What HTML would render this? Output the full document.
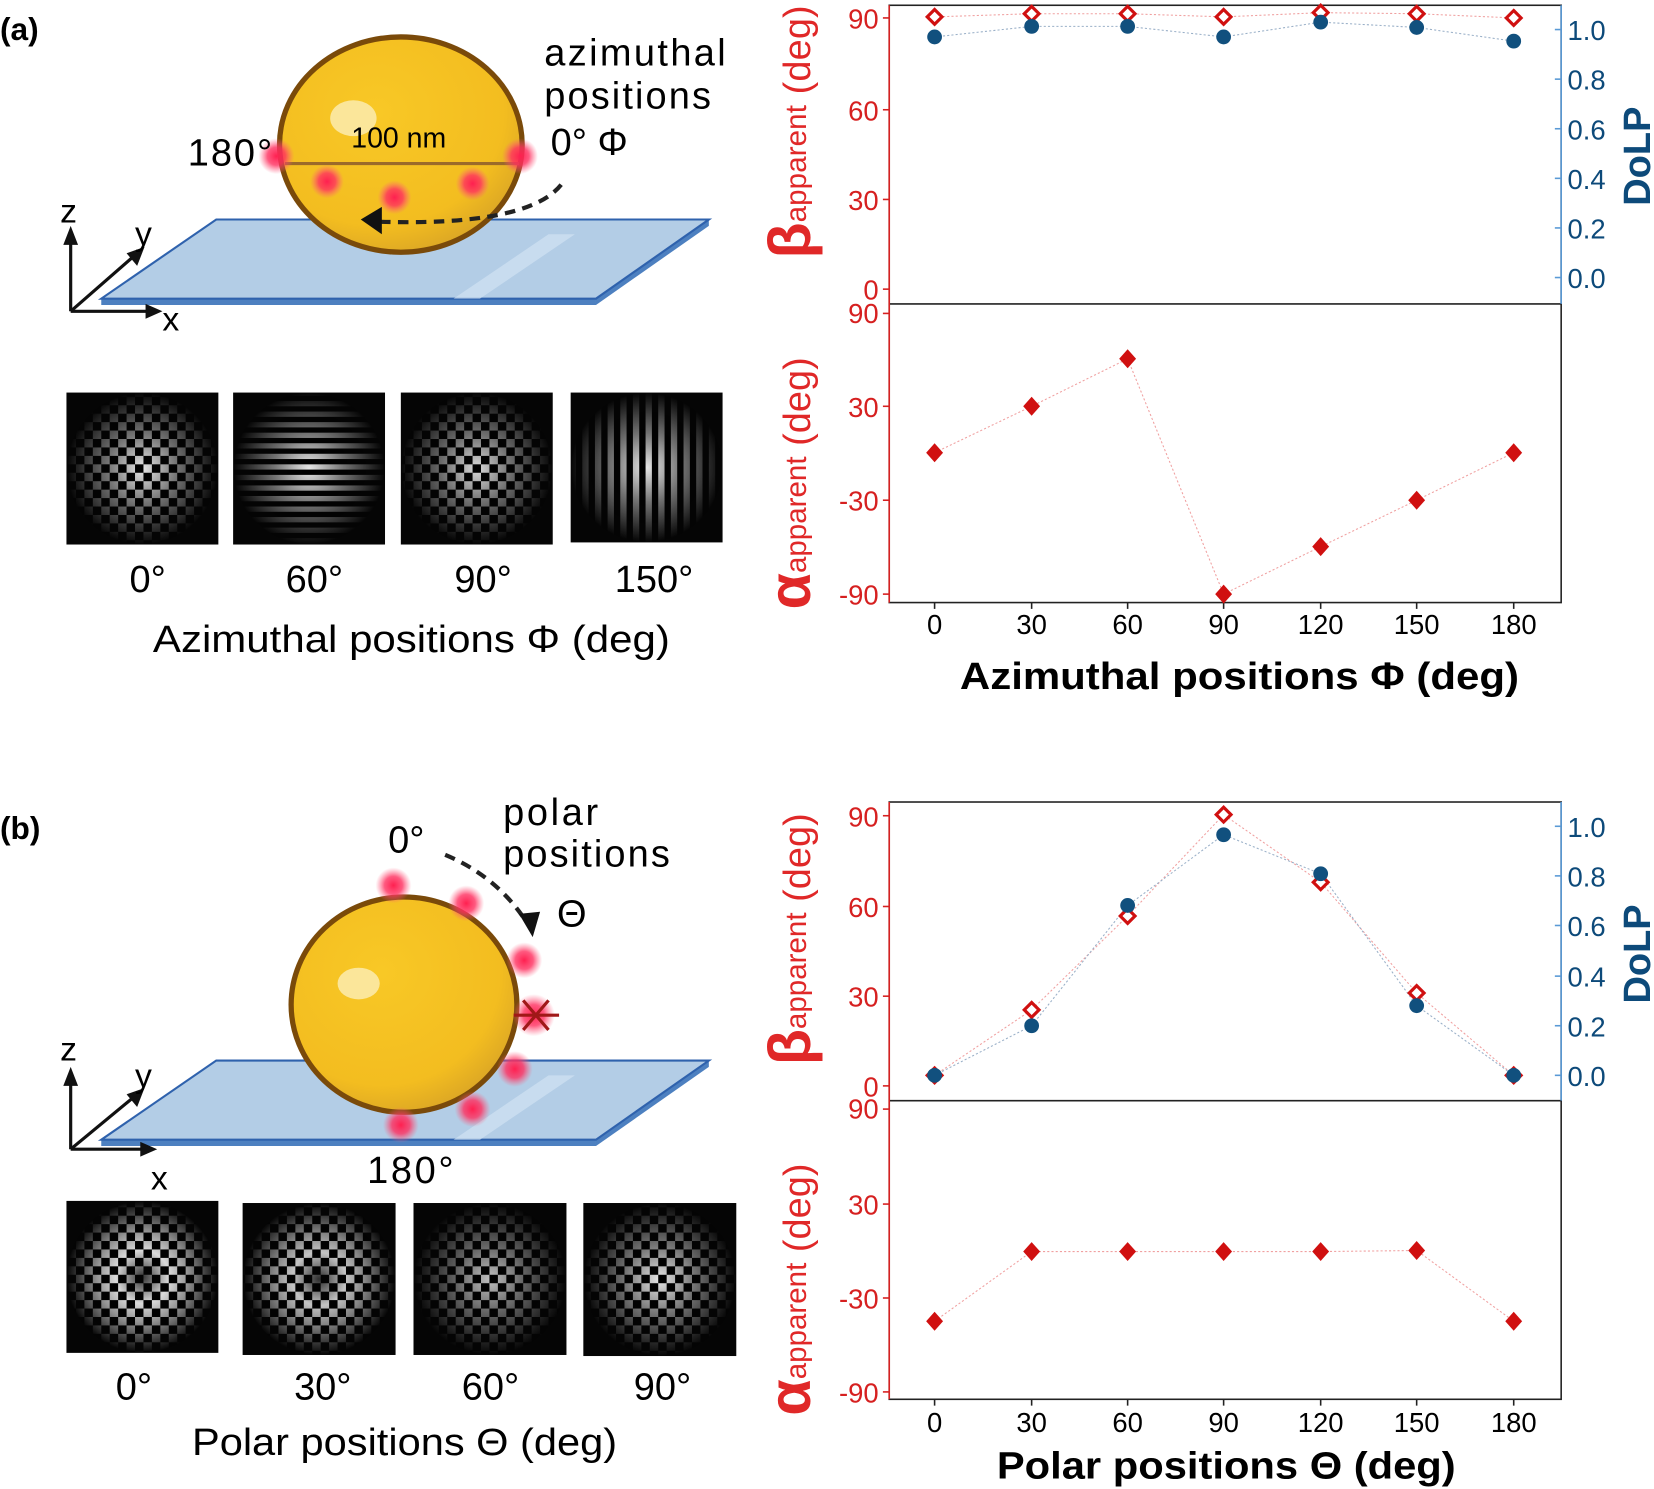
<!DOCTYPE html>
<html><head><meta charset="utf-8"><style>
html,body{margin:0;padding:0;background:#fff;}
svg{display:block;}
text{font-family:"Liberation Sans",Arial,sans-serif;}
</style></head><body>
<svg width="1654" height="1489" viewBox="0 0 1568 1411" preserveAspectRatio="none" xmlns="http://www.w3.org/2000/svg">
<defs>
<radialGradient id="glow"><stop offset="0" stop-color="#ff2050" stop-opacity="1"/><stop offset="0.5" stop-color="#ff3060" stop-opacity="0.8"/><stop offset="1" stop-color="#ff6080" stop-opacity="0"/></radialGradient>
<radialGradient id="spot" cx="0.5" cy="0.5" r="0.5"><stop offset="0" stop-color="#fff" stop-opacity="1"/><stop offset="0.45" stop-color="#fff" stop-opacity="0.5"/><stop offset="1" stop-color="#fff" stop-opacity="0"/></radialGradient>
<radialGradient id="ring" cx="0.5" cy="0.5" r="0.5"><stop offset="0" stop-color="#fff" stop-opacity="0.2"/><stop offset="0.35" stop-color="#fff" stop-opacity="0.9"/><stop offset="0.6" stop-color="#fff" stop-opacity="0.6"/><stop offset="1" stop-color="#fff" stop-opacity="0"/></radialGradient>
<pattern id="chk" width="16" height="16" patternUnits="userSpaceOnUse"><rect width="16" height="16" fill="#000"/><rect width="8" height="8" fill="#fff"/><rect x="8" y="8" width="8" height="8" fill="#fff"/></pattern>
<pattern id="vstr" width="12" height="12" patternUnits="userSpaceOnUse"><rect width="12" height="12" fill="#000"/><rect width="6" height="12" fill="#fff"/></pattern>
<pattern id="hstr" width="10" height="10" patternUnits="userSpaceOnUse"><rect width="10" height="10" fill="#000"/><rect width="10" height="5" fill="#fff"/></pattern>
<mask id="mSpot" maskContentUnits="objectBoundingBox"><rect width="1" height="1" fill="url(#spot)"/></mask>
<mask id="mRing" maskContentUnits="objectBoundingBox"><rect width="1" height="1" fill="url(#ring)"/></mask>
<radialGradient id="gold" cx="0.4" cy="0.35" r="0.7"><stop offset="0" stop-color="#f8c826"/><stop offset="0.75" stop-color="#f3bd20"/><stop offset="1" stop-color="#d9a425"/></radialGradient>
</defs>

<!-- ===== (a) illustration ===== -->
<text x="0" y="38" font-size="30" font-weight="bold">(a)</text>
<polygon points="96,283 565,283 565,289 96,289" fill="#4d80c0"/>
<polygon points="565,283 672,208 672,214 565,289" fill="#4d80c0"/>
<polygon points="205,208 672,208 565,283 96,283" fill="#b3cde6" stroke="#2f62ad" stroke-width="2"/>
<polygon points="430,283 520,222 545,222 455,283" fill="#d2e2f2" opacity="0.7"/>
<ellipse cx="380" cy="137" rx="115" ry="102" fill="url(#gold)" stroke="#7a4a0a" stroke-width="5"/>
<ellipse cx="335" cy="112" rx="22" ry="17" fill="#fbe69a"/>
<line x1="270" y1="155" x2="492" y2="155" stroke="#9b6a2a" stroke-width="3"/>
<circle cx="262" cy="148" r="17" fill="url(#glow)"/>
<circle cx="493" cy="148" r="17" fill="url(#glow)"/>
<circle cx="310" cy="172" r="16" fill="url(#glow)"/>
<circle cx="374" cy="187" r="16" fill="url(#glow)"/>
<circle cx="448" cy="174" r="16" fill="url(#glow)"/>
<path d="M532,175 Q500,215 355,210" fill="none" stroke="#222" stroke-width="4" stroke-dasharray="10,7"/>
<polygon points="342,208 362,196 362,222" fill="#111"/>
<text x="378" y="140" font-size="27" text-anchor="middle">100 nm</text>
<text x="178" y="157" font-size="36" textLength="80">180°</text>
<text x="522" y="147" font-size="36">0°  Φ</text>
<text x="516" y="62" font-size="36" textLength="172">azimuthal</text>
<text x="516" y="103" font-size="36" textLength="158">positions</text>
<g stroke="#111" stroke-width="3" fill="#111">
<line x1="67" y1="295" x2="67" y2="222"/><polygon points="67,214 60,232 74,232" stroke="none"/>
<line x1="67" y1="295" x2="145" y2="295"/><polygon points="154,295 138,288 138,302" stroke="none"/>
<line x1="67" y1="295" x2="130" y2="240"/><polygon points="137,234 120,240 130,252" stroke="none"/>
</g>
<text x="57" y="211" font-size="32">z</text>
<text x="128" y="232" font-size="32">y</text>
<text x="154" y="313" font-size="32">x</text>

<!-- (a) micro images -->
<g>
<rect x="63" y="372" width="144" height="144" fill="#050505"/>
<rect x="63" y="372" width="144" height="144" fill="url(#chk)" mask="url(#mSpot)" opacity="0.9"/>
<rect x="221" y="372" width="144" height="144" fill="#050505"/>
<rect x="221" y="372" width="144" height="144" fill="url(#hstr)" mask="url(#mSpot)" opacity="0.9"/>
<rect x="380" y="372" width="144" height="144" fill="#050505"/>
<rect x="380" y="372" width="144" height="144" fill="url(#chk)" mask="url(#mSpot)" opacity="0.85"/>
<rect x="541" y="372" width="144" height="142" fill="#050505"/>
<rect x="541" y="372" width="144" height="142" fill="url(#vstr)" mask="url(#mSpot)" opacity="0.9"/>
</g>
<g font-size="36" text-anchor="middle">
<text x="140" y="561">0°</text><text x="298" y="561">60°</text><text x="458" y="561">90°</text><text x="620" y="561">150°</text>
</g>
<text x="145" y="618" font-size="36" textLength="490" lengthAdjust="spacingAndGlyphs">Azimuthal positions Φ (deg)</text>

<!-- ===== (b) illustration ===== -->
<text x="0" y="795" font-size="30" font-weight="bold">(b)</text>
<polygon points="96,1080 565,1080 565,1086 96,1086" fill="#4d80c0"/>
<polygon points="565,1080 672,1005 672,1011 565,1086" fill="#4d80c0"/>
<polygon points="205,1005 672,1005 565,1080 96,1080" fill="#b3cde6" stroke="#2f62ad" stroke-width="2"/>
<polygon points="430,1080 520,1019 545,1019 455,1080" fill="#d2e2f2" opacity="0.7"/>
<ellipse cx="383" cy="952" rx="107" ry="102" fill="url(#gold)" stroke="#7a4a0a" stroke-width="5"/>
<ellipse cx="340" cy="932" rx="20" ry="15" fill="#fbe69a"/>
<circle cx="373" cy="839" r="17" fill="url(#glow)"/>
<circle cx="442" cy="856" r="17" fill="url(#glow)"/>
<circle cx="497" cy="910" r="17" fill="url(#glow)"/>
<circle cx="506" cy="962" r="20" fill="url(#glow)"/>
<circle cx="488" cy="1013" r="17" fill="url(#glow)"/>
<circle cx="448" cy="1051" r="17" fill="url(#glow)"/>
<circle cx="380" cy="1066" r="17" fill="url(#glow)"/>
<g stroke="#a01818" stroke-width="3"><line x1="487" y1="962" x2="530" y2="962"/><line x1="496" y1="948" x2="520" y2="976"/><line x1="496" y1="976" x2="520" y2="948"/></g>
<path d="M422,810 Q470,830 498,872" fill="none" stroke="#222" stroke-width="4" stroke-dasharray="10,7"/>
<polygon points="505,888 492,866 512,864" fill="#111"/>
<text x="368" y="808" font-size="36">0°</text>
<text x="477" y="782" font-size="36" textLength="90">polar</text>
<text x="477" y="821" font-size="36" textLength="158">positions</text>
<text x="528" y="878" font-size="36">Θ</text>
<text x="348" y="1121" font-size="36" textLength="82">180°</text>
<g stroke="#111" stroke-width="3" fill="#111">
<line x1="67" y1="1089" x2="67" y2="1020"/><polygon points="67,1011 60,1029 74,1029" stroke="none"/>
<line x1="67" y1="1089" x2="140" y2="1089"/><polygon points="149,1089 133,1082 133,1096" stroke="none"/>
<line x1="67" y1="1089" x2="130" y2="1037"/><polygon points="137,1031 120,1037 130,1049" stroke="none"/>
</g>
<text x="57" y="1005" font-size="32">z</text>
<text x="128" y="1030" font-size="32">y</text>
<text x="143" y="1127" font-size="32">x</text>

<!-- (b) micro images -->
<g>
<rect x="63" y="1138" width="144" height="144" fill="#050505"/>
<rect x="63" y="1138" width="144" height="144" fill="url(#chk)" mask="url(#mRing)" opacity="0.95"/>
<rect x="230" y="1140" width="145" height="144" fill="#050505"/>
<rect x="230" y="1140" width="145" height="144" fill="url(#chk)" mask="url(#mRing)" opacity="0.85"/>
<rect x="392" y="1140" width="145" height="144" fill="#050505"/>
<rect x="392" y="1140" width="145" height="144" fill="url(#chk)" mask="url(#mSpot)" opacity="0.75"/>
<rect x="553" y="1140" width="145" height="145" fill="#050505"/>
<rect x="553" y="1140" width="145" height="145" fill="url(#chk)" mask="url(#mSpot)" opacity="0.9"/>
</g>
<g font-size="36" text-anchor="middle">
<text x="127" y="1326">0°</text><text x="306" y="1326">30°</text><text x="465" y="1326">60°</text><text x="628" y="1326">90°</text>
</g>
<text x="182" y="1379" font-size="36" textLength="403" lengthAdjust="spacingAndGlyphs">Polar positions Θ (deg)</text>

<!-- ===== chart (a) ===== -->
<g>
<rect x="843" y="5" width="637" height="566" fill="none" stroke="#222" stroke-width="1.5"/>
<line x1="843" y1="288" x2="1480" y2="288" stroke="#222" stroke-width="1.5"/>
<line x1="843" y1="5" x2="843" y2="571" stroke="#d62020" stroke-width="1.5"/>
<line x1="1480" y1="5" x2="1480" y2="288" stroke="#5a9ad6" stroke-width="1.5"/>
<g stroke="#d62020" stroke-width="1.5">
<line x1="837" y1="17" x2="843" y2="17"/><line x1="837" y1="104" x2="843" y2="104"/><line x1="837" y1="189" x2="843" y2="189"/><line x1="837" y1="274" x2="843" y2="274"/>
<line x1="837" y1="297" x2="843" y2="297"/><line x1="837" y1="385" x2="843" y2="385"/><line x1="837" y1="474" x2="843" y2="474"/><line x1="837" y1="563" x2="843" y2="563"/>
</g>
<g fill="#d62020" font-size="26" text-anchor="end">
<text x="833" y="27">90</text><text x="833" y="114">60</text><text x="833" y="199">30</text><text x="833" y="284">0</text>
<text x="833" y="306">90</text><text x="833" y="395">30</text><text x="833" y="484">-30</text><text x="833" y="573">-90</text>
</g>
<g stroke="#5a9ad6" stroke-width="1.5">
<line x1="1474" y1="28" x2="1480" y2="28"/><line x1="1474" y1="75" x2="1480" y2="75"/><line x1="1474" y1="122" x2="1480" y2="122"/><line x1="1474" y1="169" x2="1480" y2="169"/><line x1="1474" y1="216" x2="1480" y2="216"/><line x1="1474" y1="263" x2="1480" y2="263"/>
</g>
<g fill="#0d4a7a" font-size="26">
<text x="1486" y="38">1.0</text><text x="1486" y="85">0.8</text><text x="1486" y="132">0.6</text><text x="1486" y="179">0.4</text><text x="1486" y="226">0.2</text><text x="1486" y="273">0.0</text>
</g>
<text transform="translate(1564,148) rotate(-90)" fill="#0d4a7a" font-size="36" font-weight="bold" text-anchor="middle">DoLP</text>
<g stroke="#222" stroke-width="1.5">
<line x1="886" y1="571" x2="886" y2="577"/><line x1="978" y1="571" x2="978" y2="577"/><line x1="1069" y1="571" x2="1069" y2="577"/><line x1="1160" y1="571" x2="1160" y2="577"/><line x1="1252" y1="571" x2="1252" y2="577"/><line x1="1343" y1="571" x2="1343" y2="577"/><line x1="1435" y1="571" x2="1435" y2="577"/>
</g>
<g font-size="26" text-anchor="middle">
<text x="886" y="601">0</text><text x="978" y="601">30</text><text x="1069" y="601">60</text><text x="1160" y="601">90</text><text x="1252" y="601">120</text><text x="1343" y="601">150</text><text x="1435" y="601">180</text>
</g>
<text x="910" y="653" font-size="36" font-weight="bold" textLength="530" lengthAdjust="spacingAndGlyphs">Azimuthal positions Φ (deg)</text>
<text transform="translate(768,125) rotate(-90)" fill="#e02828" text-anchor="middle" textLength="240"><tspan font-size="56" font-weight="bold">β</tspan><tspan font-size="28" dy="-4">apparent</tspan><tspan font-size="36" dy="4"> (deg)</tspan></text>
<text transform="translate(768,458) rotate(-90)" fill="#e02828" text-anchor="middle"><tspan font-size="56" font-weight="bold">α</tspan><tspan font-size="28" dy="-4">apparent</tspan><tspan font-size="36" dy="4"> (deg)</tspan></text>
<polyline points="886,16 978,13 1069,13 1160,16 1252,12 1343,13 1435,17" fill="none" stroke="#f0a0a0" stroke-width="1" stroke-dasharray="2,2"/>
<polyline points="886,35 978,25 1069,25 1160,35 1252,21 1343,26 1435,39" fill="none" stroke="#9ab0c8" stroke-width="1" stroke-dasharray="2,2"/>
<g fill="#fff" stroke="#d01010" stroke-width="3">
<polygon points="886,9 893,16 886,23 879,16"/><polygon points="978,6 985,13 978,20 971,13"/><polygon points="1069,6 1076,13 1069,20 1062,13"/><polygon points="1160,9 1167,16 1160,23 1153,16"/><polygon points="1252,5 1259,12 1252,19 1245,12"/><polygon points="1343,6 1350,13 1343,20 1336,13"/><polygon points="1435,10 1442,17 1435,24 1428,17"/>
</g>
<g fill="#11507e">
<circle cx="886" cy="35" r="7"/><circle cx="978" cy="25" r="7"/><circle cx="1069" cy="25" r="7"/><circle cx="1160" cy="35" r="7"/><circle cx="1252" cy="21" r="7"/><circle cx="1343" cy="26" r="7"/><circle cx="1435" cy="39" r="7"/>
</g>
<polyline points="886,429 978,385 1069,340 1160,563 1252,518 1343,474 1435,429" fill="none" stroke="#f0a0a0" stroke-width="1" stroke-dasharray="2,2"/>
<g fill="#d01010">
<polygon points="886,420 894,429 886,438 878,429"/><polygon points="978,376 986,385 978,394 970,385"/><polygon points="1069,331 1077,340 1069,349 1061,340"/><polygon points="1160,554 1168,563 1160,572 1152,563"/><polygon points="1252,509 1260,518 1252,527 1244,518"/><polygon points="1343,465 1351,474 1343,483 1335,474"/><polygon points="1435,420 1443,429 1435,438 1427,429"/>
</g>
</g>

<!-- ===== chart (b) ===== -->
<g>
<rect x="843" y="760" width="637" height="566" fill="none" stroke="#222" stroke-width="1.5"/>
<line x1="843" y1="1043" x2="1480" y2="1043" stroke="#222" stroke-width="1.5"/>
<line x1="843" y1="760" x2="843" y2="1326" stroke="#d62020" stroke-width="1.5"/>
<line x1="1480" y1="760" x2="1480" y2="1043" stroke="#5a9ad6" stroke-width="1.5"/>
<g stroke="#d62020" stroke-width="1.5">
<line x1="837" y1="773" x2="843" y2="773"/><line x1="837" y1="859" x2="843" y2="859"/><line x1="837" y1="944" x2="843" y2="944"/><line x1="837" y1="1029" x2="843" y2="1029"/>
<line x1="837" y1="1051" x2="843" y2="1051"/><line x1="837" y1="1141" x2="843" y2="1141"/><line x1="837" y1="1230" x2="843" y2="1230"/><line x1="837" y1="1319" x2="843" y2="1319"/>
</g>
<g fill="#d62020" font-size="26" text-anchor="end">
<text x="833" y="783">90</text><text x="833" y="869">60</text><text x="833" y="954">30</text><text x="833" y="1039">0</text>
<text x="833" y="1060">90</text><text x="833" y="1151">30</text><text x="833" y="1240">-30</text><text x="833" y="1329">-90</text>
</g>
<g stroke="#5a9ad6" stroke-width="1.5">
<line x1="1474" y1="783" x2="1480" y2="783"/><line x1="1474" y1="830" x2="1480" y2="830"/><line x1="1474" y1="877" x2="1480" y2="877"/><line x1="1474" y1="925" x2="1480" y2="925"/><line x1="1474" y1="972" x2="1480" y2="972"/><line x1="1474" y1="1019" x2="1480" y2="1019"/>
</g>
<g fill="#0d4a7a" font-size="26">
<text x="1486" y="793">1.0</text><text x="1486" y="840">0.8</text><text x="1486" y="887">0.6</text><text x="1486" y="935">0.4</text><text x="1486" y="982">0.2</text><text x="1486" y="1029">0.0</text>
</g>
<text transform="translate(1564,904) rotate(-90)" fill="#0d4a7a" font-size="36" font-weight="bold" text-anchor="middle">DoLP</text>
<g stroke="#222" stroke-width="1.5">
<line x1="886" y1="1326" x2="886" y2="1332"/><line x1="978" y1="1326" x2="978" y2="1332"/><line x1="1069" y1="1326" x2="1069" y2="1332"/><line x1="1160" y1="1326" x2="1160" y2="1332"/><line x1="1252" y1="1326" x2="1252" y2="1332"/><line x1="1343" y1="1326" x2="1343" y2="1332"/><line x1="1435" y1="1326" x2="1435" y2="1332"/>
</g>
<g font-size="26" text-anchor="middle">
<text x="886" y="1357">0</text><text x="978" y="1357">30</text><text x="1069" y="1357">60</text><text x="1160" y="1357">90</text><text x="1252" y="1357">120</text><text x="1343" y="1357">150</text><text x="1435" y="1357">180</text>
</g>
<text x="945" y="1401" font-size="36" font-weight="bold" textLength="435" lengthAdjust="spacingAndGlyphs">Polar positions Θ (deg)</text>
<text transform="translate(768,890) rotate(-90)" fill="#e02828" text-anchor="middle"><tspan font-size="56" font-weight="bold">β</tspan><tspan font-size="28" dy="-4">apparent</tspan><tspan font-size="36" dy="4"> (deg)</tspan></text>
<text transform="translate(768,1222) rotate(-90)" fill="#e02828" text-anchor="middle"><tspan font-size="56" font-weight="bold">α</tspan><tspan font-size="28" dy="-4">apparent</tspan><tspan font-size="36" dy="4"> (deg)</tspan></text>
<polyline points="886,1019 978,957 1069,868 1160,772 1252,836 1343,941 1435,1019" fill="none" stroke="#f0a0a0" stroke-width="1" stroke-dasharray="2,2"/>
<polyline points="886,1019 978,972 1069,858 1160,791 1252,828 1343,953 1435,1019" fill="none" stroke="#9ab0c8" stroke-width="1" stroke-dasharray="2,2"/>
<g fill="#fff" stroke="#d01010" stroke-width="3">
<polygon points="886,1012 893,1019 886,1026 879,1019"/><polygon points="978,950 985,957 978,964 971,957"/><polygon points="1069,861 1076,868 1069,875 1062,868"/><polygon points="1160,765 1167,772 1160,779 1153,772"/><polygon points="1252,829 1259,836 1252,843 1245,836"/><polygon points="1343,934 1350,941 1343,948 1336,941"/><polygon points="1435,1012 1442,1019 1435,1026 1428,1019"/>
</g>
<g fill="#11507e">
<circle cx="886" cy="1019" r="7"/><circle cx="978" cy="972" r="7"/><circle cx="1069" cy="858" r="7"/><circle cx="1160" cy="791" r="7"/><circle cx="1252" cy="828" r="7"/><circle cx="1343" cy="953" r="7"/><circle cx="1435" cy="1019" r="7"/>
</g>
<polyline points="886,1252 978,1186 1069,1186 1160,1186 1252,1186 1343,1185 1435,1252" fill="none" stroke="#f0a0a0" stroke-width="1" stroke-dasharray="2,2"/>
<g fill="#d01010">
<polygon points="886,1243 894,1252 886,1261 878,1252"/><polygon points="978,1177 986,1186 978,1195 970,1186"/><polygon points="1069,1177 1077,1186 1069,1195 1061,1186"/><polygon points="1160,1177 1168,1186 1160,1195 1152,1186"/><polygon points="1252,1177 1260,1186 1252,1195 1244,1186"/><polygon points="1343,1176 1351,1185 1343,1194 1335,1185"/><polygon points="1435,1243 1443,1252 1435,1261 1427,1252"/>
</g>
</g>
</svg>
</body></html>
